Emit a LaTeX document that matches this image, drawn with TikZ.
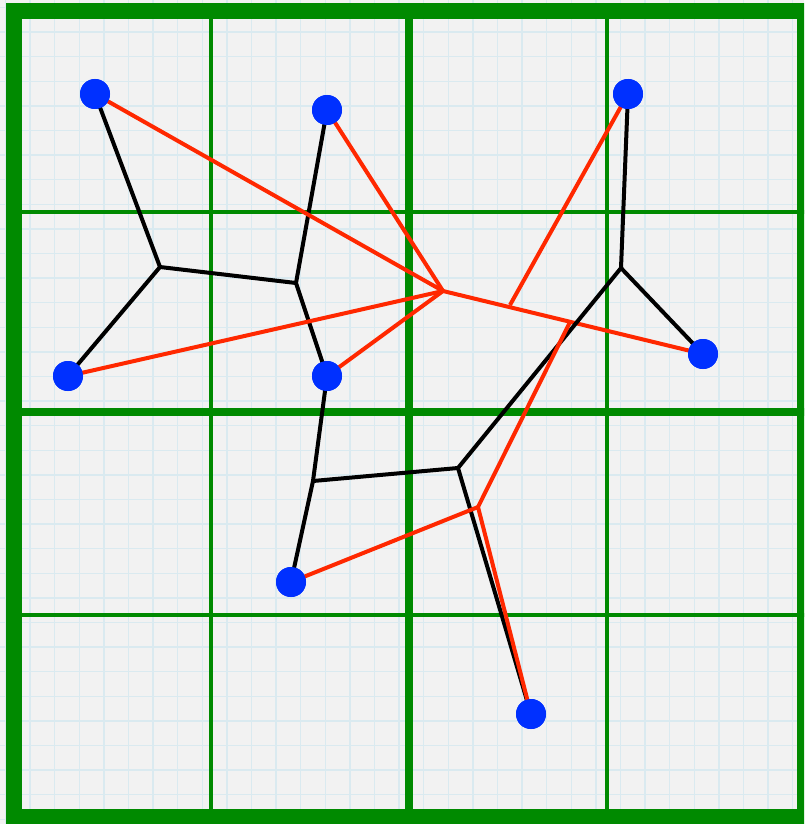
\documentclass[tikz,border=0pt]{standalone}
\definecolor{gridgreen}{RGB}{0,138,0}
\definecolor{dotblue}{RGB}{0,48,255}
\definecolor{linered}{RGB}{255,40,0}
\definecolor{paper}{RGB}{242,242,242}
\definecolor{finegrid}{RGB}{218,234,240}
\begin{document}
\begin{tikzpicture}[x=1pt,y=-1pt,
  dot/.style={circle,fill=dotblue,inner sep=0pt,minimum size=30pt},
  blk/.style={black,line width=4pt,line join=miter},
  rd/.style={linered,line width=4pt},
  thickg/.style={gridgreen,line width=8pt},
  thing/.style={gridgreen,line width=4pt}]
\useasboundingbox (0,0) rectangle (804,824);
\begin{scope}
\clip (0,0) rectangle (804,824);
\fill[paper] (0,0) rectangle (804,824);
% fine grid
\foreach \i in {0,...,33} {
  \draw[finegrid,line width=1.3pt] (5.5+24.6*\i,0) -- (5.5+24.6*\i,824);
  \draw[finegrid,line width=1.3pt] (0,7.5+24.6*\i) -- (804,7.5+24.6*\i);
}
% green grid
\draw[thing] (211,11) -- (211,817);
\draw[thing] (607,11) -- (607,817);
\draw[thing] (14,212) -- (805,212);
\draw[thing] (14,615) -- (805,615);
\draw[thickg] (409,11) -- (409,817);
\draw[thickg] (14,412) -- (805,412);
\draw[gridgreen,line width=16pt] (14,11) rectangle (805,817);
\end{scope}
% terminals
\node[dot] (A) at (95,94) {};
\node[dot] (B) at (327,110) {};
\node[dot] (C) at (628,94) {};
\node[dot] (D) at (68,376) {};
\node[dot] (E) at (327,376) {};
\node[dot] (F) at (703,354) {};
\node[dot] (G) at (291,582) {};
\node[dot] (H) at (531,714) {};
% steiner points
\coordinate (S1) at (160,267);
\coordinate (S2) at (296,283);
\coordinate (S3) at (313,481);
\coordinate (S4) at (458,468);
\coordinate (S5) at (621,268);
% red junctions
\coordinate (R1) at (443,291);
\coordinate (R2) at (510,305);
\coordinate (R3) at (570,322);
\coordinate (R4) at (478,507);
% red tree (part under black)
\draw[rd] (R1) -- (F.center);
\draw[rd] (C.center) -- (R2);
% black Steiner tree
\draw[blk] (A.center) -- (S1) -- (D.center);
\draw[blk] (S1) -- (S2);
\draw[blk] (B.center) -- (S2) -- (E.center);
\draw[blk] (E.center) -- (S3) -- (G.center);
\draw[blk] (S3) -- (S4) -- (H.center);
\draw[blk] (S4) -- (S5) -- (C.center);
\draw[blk] (S5) -- (F.center);
% red tree (rest)
\draw[rd] (A.center) -- (R1);
\draw[rd] (B.center) -- (R1);
\draw[rd] (D.center) -- (R1);
\draw[rd] (E.center) -- (R1);
\draw[rd] (R3) -- (R4);
\draw[rd] (G.center) -- (R4) -- (H.center);
% dots on top
\foreach \n in {A,B,C,D,E,F,G,H} \fill[dotblue] (\n) circle (15pt);
\end{tikzpicture}
\end{document}
